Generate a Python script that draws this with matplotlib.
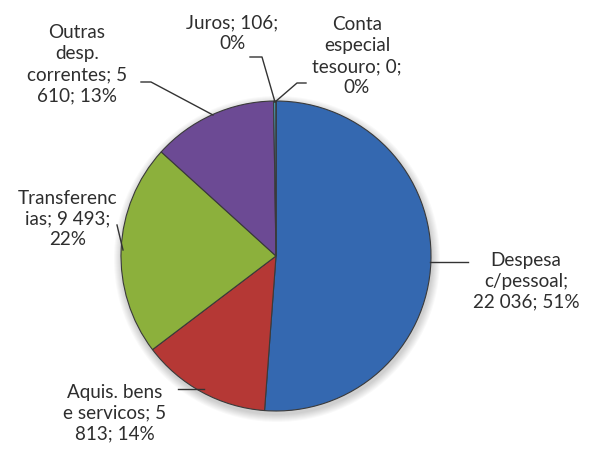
import numpy as np
import matplotlib
matplotlib.use("Agg")
import matplotlib.pyplot as plt
from matplotlib.patches import Circle

# data
categories = ["Despesa c/pessoal", "Aquis. bens e servicos", "Transferencias",
              "Outras desp. correntes", "Juros", "Conta especial tesouro"]
values = [22036, 5813, 9493, 5610, 106, 0]
labels = ["Despesa\nc/pessoal;\n22 036; 51%",
          "Aquis. bens\ne servicos; 5\n813; 14%",
          "Transferenc\nias; 9 493;\n22%",
          "Outras\ndesp.\ncorrentes; 5\n610; 13%",
          "Juros; 106;\n0%",
          "Conta\nespecial\ntesouro; 0;\n0%"]
colors = ["#3468B0", "#B53835", "#8CB03C", "#6C4A94", "#4BACC6", "#F79646"]

plt.rcParams['font.family'] = ['Lato', 'DejaVu Sans']

fig = plt.figure(figsize=(5.91, 4.5), dpi=100)
ax = fig.add_axes([0, 0, 1, 1])

cx, cy, r = 276, 256, 155

# soft shadow behind the pie
for k in range(8, 0, -1):
    ax.add_patch(Circle((cx + 1, cy + 3), r + k, color="#000000", alpha=0.025, lw=0, zorder=0))

ax.pie(values, colors=colors, startangle=-90, counterclock=True,
       center=(cx, cy), radius=r, frame=False,
       wedgeprops=dict(edgecolor="#3a3a3a", linewidth=0.8))

ax.set_xlim(0, 591)
ax.set_ylim(450, 0)
ax.set_aspect("auto")
ax.axis("off")

# label positions (pixels) and leader lines
label_pos = [(526, 281), (115, 413), (68, 219), (77, 64), (232, 33), (357, 56)]
leaders = [
    [(430, 262), (468, 262)],
    [(178, 389), (204, 389)],
    [(117, 225), (123, 250)],
    [(141, 82), (151, 82), (213, 115)],
    [(250, 57), (262, 57), (275, 102)],
    [(275, 102), (297, 83), (306, 83)],
]

for lab, (x, y) in zip(labels, label_pos):
    ax.text(x, y, lab, ha="center", va="center", fontsize=13.6,
            color="#2e2e2e", linespacing=1.28, multialignment="center")

for pts in leaders:
    xs, ys = zip(*pts)
    ax.plot(xs, ys, color="#333333", lw=1.0, zorder=5)

fig.savefig("out.png", dpi=100)
